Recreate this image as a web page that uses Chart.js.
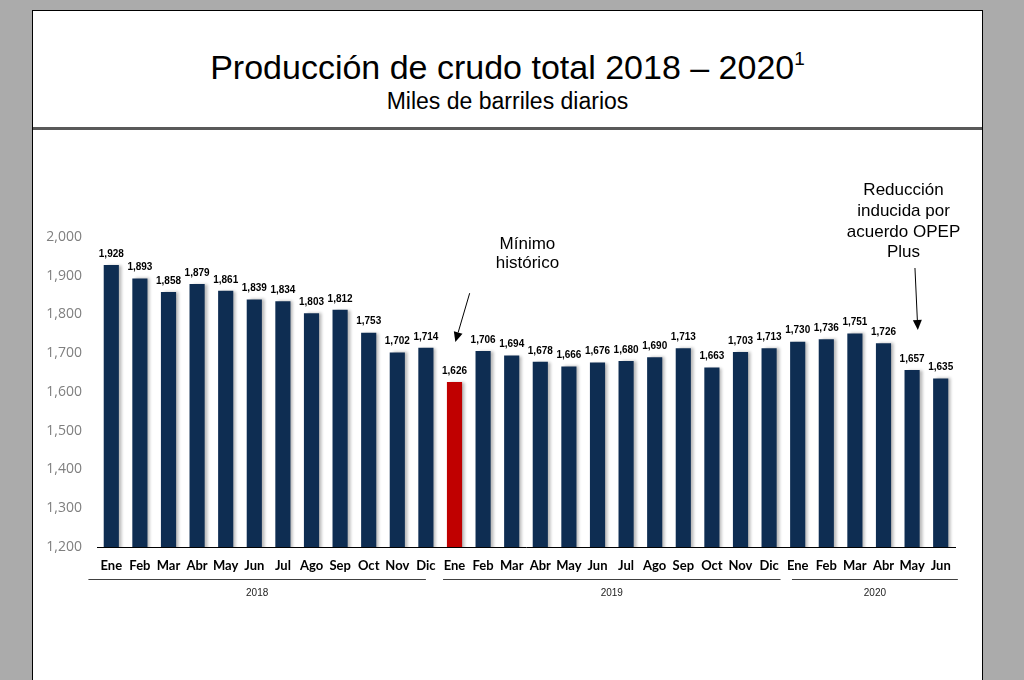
<!DOCTYPE html>
<html>
<head>
<meta charset="utf-8">
<script src="https://cdn.jsdelivr.net/npm/chart.js@4"></script>
<style>
  body { margin: 0; width: 1024px; height: 680px; overflow: hidden; background: #ababab; font-family: "Liberation Sans", Arial, sans-serif; }
  #panel { position: absolute; left: 32px; top: 10px; width: 949px; height: 720px; background: #fff; border: 1px solid #000; }
  #title { position: absolute; left: 0; width: 949px; top: 36px; text-align: center; font-size: 34px; color: #000; line-height: 40px; }
  #title sup { font-size: 19px; vertical-align: 0; position: relative; top: -14px; }
  #subtitle { position: absolute; left: 0; width: 949px; top: 77px; text-align: center; font-size: 23px; color: #000; line-height: 26px; }
  #sep { position: absolute; left: 0; width: 949px; top: 116px; height: 3px; background: #595959; }
  #wrap { position: absolute; left: 33px; top: 130px; width: 948px; height: 550px; }
</style>
</head>
<body>
<div id="panel">
  <div id="title">Producción de crudo total 2018 – 2020<sup>1</sup></div>
  <div id="subtitle">Miles de barriles diarios</div>
  <div id="sep"></div>
</div>
<div id="wrap"><canvas id="crudo-chart" width="948" height="550"></canvas></div>
<script>
// Datos (miles de barriles diarios)
const meses = ['Ene', 'Feb', 'Mar', 'Abr', 'May', 'Jun', 'Jul', 'Ago', 'Sep', 'Oct', 'Nov', 'Dic',
               'Ene', 'Feb', 'Mar', 'Abr', 'May', 'Jun', 'Jul', 'Ago', 'Sep', 'Oct', 'Nov', 'Dic',
               'Ene', 'Feb', 'Mar', 'Abr', 'May', 'Jun'];
const produccion = [1928, 1893, 1858, 1879, 1861, 1839, 1834, 1803, 1812, 1753, 1702, 1714,
                    1626, 1706, 1694, 1678, 1666, 1676, 1680, 1690, 1713, 1663, 1703, 1713,
                    1730, 1736, 1751, 1726, 1657, 1635];
const anios = ['2018', '2019', '2020'];
const aniosInicio = [-0.8, 11.6, 23.8];
const aniosFin = [11, 23.4, 29.6];
const minimoIdx = 12;

const azul = '#0e2d52';
const rojo = '#c00000';
const colores = produccion.map((v, i) => i === minimoIdx ? rojo : azul);

function flecha(ctx, x1, y1, x2, y2) {
    const ang = Math.atan2(y2 - y1, x2 - x1);
    const largo = 10;
    const ancho = 4.5;
    ctx.beginPath();
    ctx.moveTo(x1, y1);
    ctx.lineTo(x2 - Math.cos(ang) * largo, y2 - Math.sin(ang) * largo);
    ctx.stroke();
    ctx.beginPath();
    ctx.moveTo(x2, y2);
    ctx.lineTo(x2 - Math.cos(ang) * largo + Math.sin(ang) * ancho, y2 - Math.sin(ang) * largo - Math.cos(ang) * ancho);
    ctx.lineTo(x2 - Math.cos(ang) * largo - Math.sin(ang) * ancho, y2 - Math.sin(ang) * largo + Math.cos(ang) * ancho);
    ctx.closePath();
    ctx.fill();
}

const extras = {
    id: 'extras',
    beforeDatasetDraw(chart) {
        const ctx = chart.ctx;
        ctx.save();
        ctx.shadowColor = 'rgba(0,0,0,0.28)';
        ctx.shadowOffsetX = 3;
        ctx.shadowOffsetY = 0;
        ctx.shadowBlur = 3;
    },
    afterDatasetDraw(chart) {
        chart.ctx.restore();
    },
    afterDraw(chart) {
        const ctx = chart.ctx;
        const x = chart.scales.x;
        const y = chart.scales.y;
        const meta = chart.getDatasetMeta(0);

        // etiquetas de valor
        ctx.save();
        ctx.fillStyle = '#000';
        ctx.font = 'bold 10px "Liberation Sans", Arial';
        ctx.textAlign = 'center';
        ctx.textBaseline = 'bottom';
        meta.data.forEach((bar, i) => {
            ctx.fillText(produccion[i].toLocaleString('en-US'), bar.x, bar.y - 6);
        });

        // años
        const yLinea = chart.chartArea.bottom + 32;
        ctx.strokeStyle = '#404040';
        ctx.lineWidth = 1;
        ctx.font = '10px "Liberation Sans", Arial';
        ctx.fillStyle = '#222';
        ctx.textBaseline = 'middle';
        anios.forEach((a, i) => {
            const x1 = x.getPixelForValue(aniosInicio[i]);
            const x2 = x.getPixelForValue(aniosFin[i]);
            ctx.beginPath();
            ctx.moveTo(x1, yLinea + 0.5);
            ctx.lineTo(x2, yLinea + 0.5);
            ctx.stroke();
            ctx.fillText(a, (x1 + x2) / 2, yLinea + 14);
        });

        // anotaciones
        ctx.font = '17px "Liberation Sans", Arial';
        ctx.fillStyle = '#000';
        ctx.textBaseline = 'middle';
        ctx.fillText('Mínimo', x.getPixelForValue(14.55), y.getPixelForValue(1982));
        ctx.fillText('histórico', x.getPixelForValue(14.55), y.getPixelForValue(1932));
        const lineas = ['Reducción', 'inducida por', 'acuerdo OPEP', 'Plus'];
        lineas.forEach((t, i) => {
            ctx.fillText(t, x.getPixelForValue(27.7), y.getPixelForValue(2120 - i * 53.5));
        });
        ctx.strokeStyle = '#000';
        ctx.lineWidth = 1;
        flecha(ctx, x.getPixelForValue(12.53), y.getPixelForValue(1855), x.getPixelForValue(12.03), y.getPixelForValue(1729));
        flecha(ctx, x.getPixelForValue(28.1), y.getPixelForValue(1920), x.getPixelForValue(28.2), y.getPixelForValue(1760));
        ctx.restore();
    }
};

const ctx = document.getElementById('crudo-chart');
new Chart(ctx, {
    type: 'bar',
    data: {
        labels: meses,
        datasets: [{
            data: produccion,
            backgroundColor: colores,
            borderWidth: 0,
            barPercentage: 0.53,
            categoryPercentage: 1
        }]
    },
    options: {
        responsive: false,
        animation: false,
        locale: 'en-US',
        layout: { padding: { top: 107, right: 26, bottom: 103, left: 0 } },
        plugins: { legend: { display: false }, tooltip: { enabled: false } },
        scales: {
            x: {
                grid: { display: false },
                border: { display: true, color: '#000', width: 1 },
                ticks: { color: '#000', font: { family: 'Lato', weight: 'bold', size: 13 }, padding: 3, maxRotation: 0, autoSkip: false },
                afterFit(scale) { scale.height = 30; }
            },
            y: {
                min: 1200,
                max: 2000,
                grid: { display: false, drawTicks: false },
                border: { display: false },
                ticks: { stepSize: 100, color: '#7f7f7f', font: { family: 'Open Sans', size: 14 }, padding: 15 },
                afterFit(scale) { scale.width = 64; }
            }
        }
    },
    plugins: [extras]
});
</script>
</body>
</html>
